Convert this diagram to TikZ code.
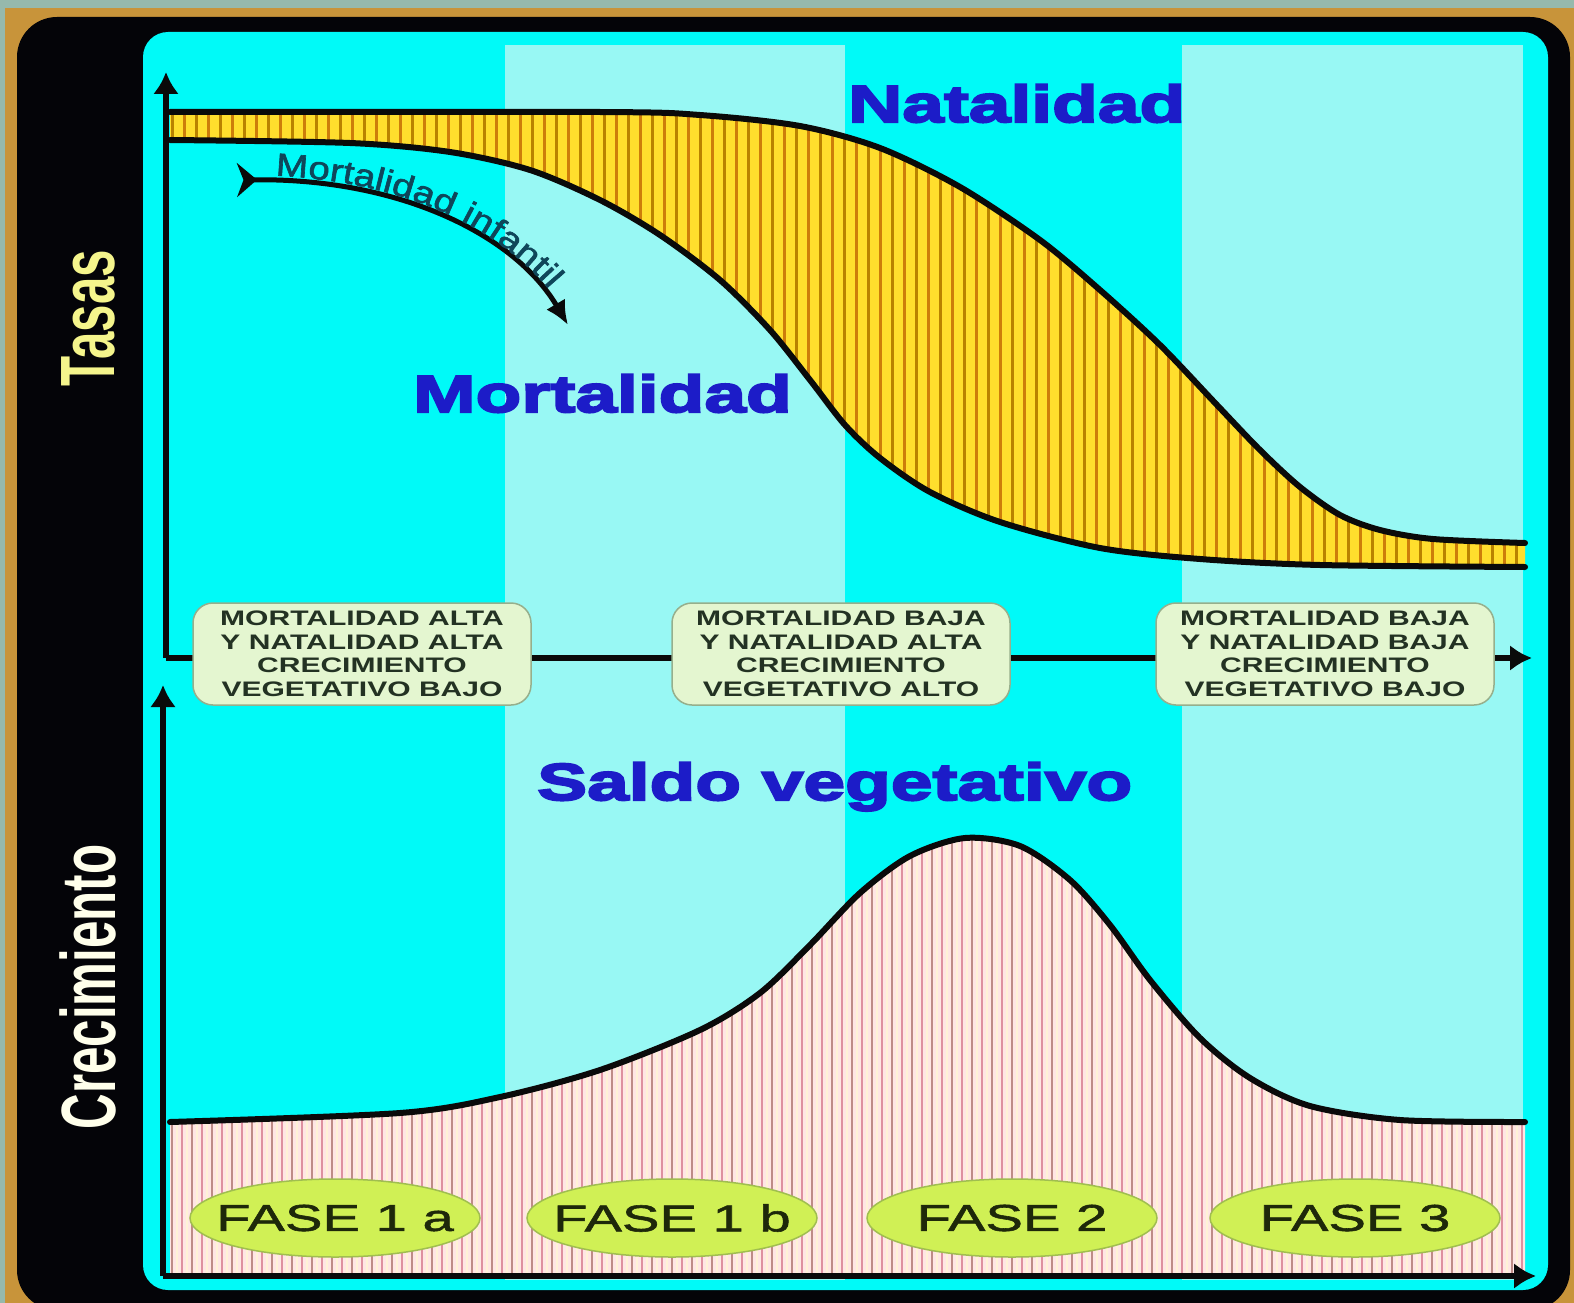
\documentclass[tikz,border=0pt]{standalone}
\usepackage{fontspec}
\setmainfont{Liberation Sans}
\usetikzlibrary{arrows.meta,shapes.geometric,decorations.text}
\newfontfamily\hfont[FakeStretch=1.44,FakeBold=4]{Liberation Sans Bold}
\newfontfamily\bxfont[FakeStretch=1.43]{Liberation Sans Bold}
\newfontfamily\fsfont[FakeStretch=1.5,FakeBold=1.5]{Liberation Sans}
\newfontfamily\mifont[FakeStretch=1.2,FakeBold=2]{Liberation Sans}
\newfontfamily\vfont[FakeStretch=0.64]{Liberation Sans Bold}
\newcommand\mifontsz{\mifont\fontsize{32}{34}\selectfont}
\definecolor{bggray}{RGB}{150,185,172}
\definecolor{goldc}{RGB}{200,148,58}
\definecolor{frameblk}{RGB}{4,4,8}
\definecolor{cyanA}{RGB}{0,250,248}
\definecolor{cyanB}{RGB}{152,248,244}
\definecolor{blueT}{RGB}{28,28,200}
\definecolor{yelBase}{RGB}{255,222,45}
\definecolor{yelDark}{RGB}{185,130,0}
\definecolor{yelOr}{RGB}{205,125,10}
\definecolor{pinkBase}{RGB}{255,230,228}
\definecolor{pinkA}{RGB}{190,140,135}
\definecolor{pinkB}{RGB}{222,145,160}
\definecolor{creamL}{RGB}{255,242,215}
\definecolor{boxfill}{RGB}{228,246,208}
\definecolor{boxedge}{RGB}{150,175,140}
\definecolor{boxtext}{RGB}{35,50,35}
\definecolor{fasefill}{RGB}{208,240,85}
\definecolor{faseedge}{RGB}{160,190,80}
\definecolor{fasetext}{RGB}{30,40,10}
\definecolor{tasasY}{RGB}{245,245,140}
\definecolor{crecW}{RGB}{255,255,235}
\definecolor{mitext}{RGB}{15,70,90}
\definecolor{linek}{RGB}{10,10,10}
\begin{document}
\begin{tikzpicture}[x=1pt,y=-1pt,
  curveline/.style={draw=linek,line width=6pt,line cap=round},
  axisline/.style={draw=linek,line width=6pt,-{Latex[length=22pt,width=26pt]}},
  hdr/.style={font=\hfont\fontsize{52}{56}\selectfont,text=blueT,inner sep=0pt,anchor=base west},
  vlabel/.style={font=\vfont\fontsize{77}{80}\selectfont,inner sep=0pt,rotate=90},
  infobox/.style={rounded corners=20pt,fill=boxfill,draw=boxedge,line width=1.5pt,
     minimum width=338pt,minimum height=102pt,align=center,inner sep=2pt,
     font=\bxfont\fontsize{21}{23.5}\selectfont,text=boxtext},
  fase/.style={ellipse,fill=fasefill,draw=faseedge,line width=1.5pt,minimum width=290pt,
     minimum height=78pt,inner sep=0pt,font=\fsfont\fontsize{37.5}{40}\selectfont,text=fasetext}
]
\useasboundingbox (0,0) rectangle (1574,1303);
% frame
\fill[bggray] (0,0) rectangle (1574,1303);
\fill[goldc] (5,8) rectangle (1574,1303);
\fill[frameblk,rounded corners=40pt] (17,17) rectangle (1570,1310);
% panel
\fill[cyanA,rounded corners=25pt] (143,32) rectangle (1548,1290);
\fill[cyanB] (505,45) rectangle (845,1280);
\fill[cyanB] (1182,45) rectangle (1523,1280);

% upper striped band
\begin{scope}
\clip plot[smooth] coordinates {(170,112) (600,112) (700,115) (800,126) (880,148) (960,187) (1040,240) (1100,290) (1160,345) (1217,405) (1260,450) (1300,487) (1340,515) (1380,530) (1433,539) (1525,543)}
 -- plot[smooth] coordinates {(1525,567) (1320,565) (1200,559) (1100,548) (1000,522) (930,492) (880,458) (845,425) (810,380) (770,330) (720,280) (660,235) (600,200) (530,170) (450,152) (350,143) (170,140)} -- cycle;
\fill[yelBase] (160,100) rectangle (1530,580);
\foreach \x in {172,196,...,1525} \draw[yelDark,line width=3pt] (\x,100) -- (\x,580);
\foreach \x in {184,208,...,1525} \draw[yelOr,line width=3pt] (\x,100) -- (\x,580);
\end{scope}
\draw[curveline] plot[smooth] coordinates {(170,112) (600,112) (700,115) (800,126) (880,148) (960,187) (1040,240) (1100,290) (1160,345) (1217,405) (1260,450) (1300,487) (1340,515) (1380,530) (1433,539) (1525,543)};
\draw[curveline] plot[smooth] coordinates {(170,140) (350,143) (450,152) (530,170) (600,200) (660,235) (720,280) (770,330) (810,380) (845,425) (880,458) (930,492) (1000,522) (1100,548) (1200,559) (1320,565) (1525,567)};

% lower striped region
\begin{scope}
\clip plot[smooth] coordinates {(170,1122) (400,1113) (500,1097) (600,1070) (700,1030) (760,993) (810,945) (860,893) (910,856) (965,838) (1020,846) (1070,880) (1110,925) (1150,980) (1200,1038) (1250,1078) (1310,1106) (1400,1120) (1525,1122)} -- (1525,1274) -- (170,1274) -- cycle;
\fill[pinkBase] (160,820) rectangle (1530,1280);
\foreach \x in {172,192,...,1525} \draw[pinkA,line width=2.5pt] (\x,820) -- (\x,1280);
\foreach \x in {182,202,...,1525} \draw[pinkB,line width=2pt] (\x,820) -- (\x,1280);
\foreach \x in {177,187,...,1525} \draw[creamL,line width=2pt] (\x,820) -- (\x,1280);
\end{scope}
\draw[curveline] plot[smooth] coordinates {(170,1122) (400,1113) (500,1097) (600,1070) (700,1030) (760,993) (810,945) (860,893) (910,856) (965,838) (1020,846) (1070,880) (1110,925) (1150,980) (1200,1038) (1250,1078) (1310,1106) (1400,1120) (1525,1122)};

% axes
\coordinate (uo) at (166,658);
\coordinate (uy) at (166,72);
\coordinate (ux) at (1532,658);
\coordinate (lo) at (163,1276);
\coordinate (ly) at (163,685);
\coordinate (lx) at (1536,1276);
\draw[axisline] (uo) -- (uy);
\draw[axisline] (uo) -- (ux);
\draw[axisline] (lo) -- (ly);
\draw[axisline] (lo) -- (lx);

% mortalidad infantil arrow
\coordinate (mi0) at (237,180);
\coordinate (mi1) at (568,325);
\draw[linek,line width=5pt,{Stealth[reversed,length=20pt,width=34pt]}-{Latex[length=24pt,width=22pt]}]
  (mi0) .. controls (400,178) and (515,235) .. (mi1);
\path[decorate,decoration={text along path,text={|\mifontsz|Mortalidad infantil},
  text color=mitext,raise=5pt,text align={left indent=38pt}}]
  (mi0) .. controls (400,178) and (515,235) .. (mi1);

% headers
\node[hdr] (nat) at (848,122) {Natalidad};
\node[hdr] (mort) at (413,412) {Mortalidad};
\node[hdr] (saldo) at (537,800) {Saldo vegetativo};

% side labels
\node[vlabel,text=tasasY] (tasas) at (88,318) {Tasas};
\node[vlabel,text=crecW] (crec) at (88,987) {Crecimiento};

% info boxes
\node[infobox] (b1) at (362,654) {MORTALIDAD ALTA\\Y NATALIDAD ALTA\\CRECIMIENTO\\VEGETATIVO BAJO};
\node[infobox] (b2) at (841,654) {MORTALIDAD BAJA\\Y NATALIDAD ALTA\\CRECIMIENTO\\VEGETATIVO ALTO};
\node[infobox] (b3) at (1325,654) {MORTALIDAD BAJA\\Y NATALIDAD BAJA\\CRECIMIENTO\\VEGETATIVO BAJO};

% phases
\node[fase] (f1) at (335,1218) {\makebox[0pt]{FASE 1 a}};
\node[fase] (f2) at (672,1218) {\makebox[0pt]{FASE 1 b}};
\node[fase] (f3) at (1012,1218) {\makebox[0pt]{FASE 2}};
\node[fase] (f4) at (1355,1218) {\makebox[0pt]{FASE 3}};
\end{tikzpicture}
\end{document}
